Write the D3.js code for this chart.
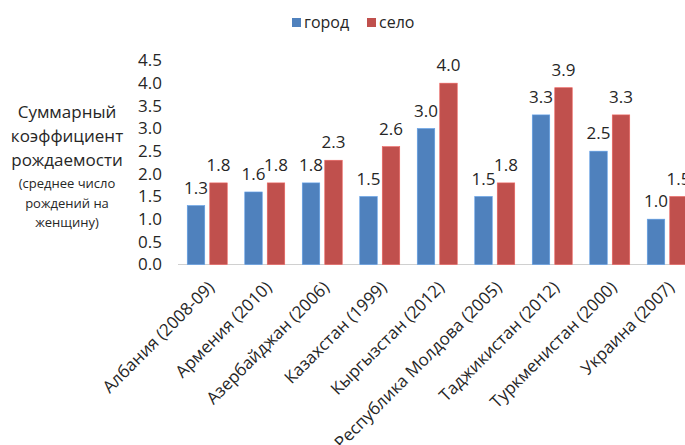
<!DOCTYPE html>
<html><head><meta charset="utf-8">
<script src="https://cdn.jsdelivr.net/npm/d3@7/dist/d3.min.js"></script>
<style>body{margin:0;background:#fff}svg{display:block}text{font-family:"Open Sans",sans-serif;fill:#262626}</style>
</head><body>
<script>
const categories = ["Албания (2008-09)","Армения (2010)","Азербайджан (2006)","Казахстан (1999)","Кыргызстан (2012)","Республика Молдова (2005)","Таджикистан (2012)","Туркменистан (2000)","Украина (2007)"];
const seriesNames = ["город","село"];
const gorod = [1.3,1.6,1.8,1.5,3.0,1.5,3.3,2.5,1.0];
const selo  = [1.8,1.8,2.3,2.6,4.0,1.8,3.9,3.3,1.5];
const yTicks = [0,0.5,1,1.5,2,2.5,3,3.5,4,4.5];
const titleMain = ["Суммарный","коэффициент","рождаемости"];
const titleSub = ["(среднее число","рождений на","женщину)"];
const colors = ["#4F81BD","#C0504D"];

const W=685,H=445;
const svg=d3.select("body").append("svg").attr("width",W).attr("height",H);
const y=d3.scaleLinear().domain([0,4.5]).range([264.5,60.5]);
const x=d3.scaleBand().domain(categories).range([178.5,696]).paddingInner(1-40/57.5).paddingOuter((1-40/57.5)/2);
const xs=d3.scaleBand().domain(seriesNames).range([0,x.bandwidth()]).paddingInner(0.222);
const series=[gorod,selo];

// y axis
const yAxis=d3.axisLeft(y).tickValues(yTicks).tickFormat(d3.format(".1f")).tickSize(0).tickPadding(0);
const ga=svg.append("g").attr("transform","translate(162,0)").call(yAxis);
ga.select(".domain").remove();
ga.selectAll("text").style("font-size","17px").style("font-family","Open Sans").attr("fill","#262626");

// baseline
svg.append("line").attr("x1",178).attr("x2",W).attr("y1",y(0)).attr("y2",y(0)).attr("stroke","#d0d0d0").attr("stroke-width",1);

// bars
series.forEach((vals,si)=>{
  const g=svg.append("g");
  g.selectAll("rect").data(vals).join("rect")
   .attr("x",(d,i)=>x(categories[i])+xs(seriesNames[si]))
   .attr("y",d=>y(d)).attr("width",xs.bandwidth()).attr("height",d=>y(0)-y(d))
   .attr("fill",colors[si]).attr("stroke",d3.color(colors[si]).brighter(0.6)).attr("stroke-width",0.6);
  g.selectAll("text").data(vals).join("text")
   .attr("x",(d,i)=>x(categories[i])+xs(seriesNames[si])+xs.bandwidth()/2)
   .attr("y",d=>y(d)-12).attr("text-anchor","middle").style("font-size","17px")
   .text(d=>d3.format(".1f")(d));
});

// x labels
const xAxis=d3.axisBottom(x).tickSize(0).tickPadding(0);
const gx=svg.append("g").attr("transform","translate(0,"+y(0)+")").call(xAxis);
gx.select(".domain").remove();
gx.selectAll("text").attr("text-anchor","end").attr("dy",0).attr("y",0)
  .attr("transform","translate(8,24) rotate(-45)").style("font-size","17px").style("font-family","Open Sans").attr("fill","#262626");

// y title
const tg=svg.append("g");
titleMain.forEach((t,i)=>tg.append("text").attr("x",67).attr("y",118+i*24).attr("text-anchor","middle").style("font-size","17px").text(t));
titleSub.forEach((t,i)=>tg.append("text").attr("x",67).attr("y",188+i*19.5).attr("text-anchor","middle").style("font-size","13px").text(t));

// legend
const lg=svg.append("g");
const lx=[292,367];
seriesNames.forEach((n,i)=>{
  lg.append("rect").attr("x",lx[i]).attr("y",18).attr("width",9).attr("height",9).attr("fill",colors[i]);
  lg.append("text").attr("x",lx[i]+12).attr("y",28).style("font-size","16px").text(n);
});
</script>
</body></html>
